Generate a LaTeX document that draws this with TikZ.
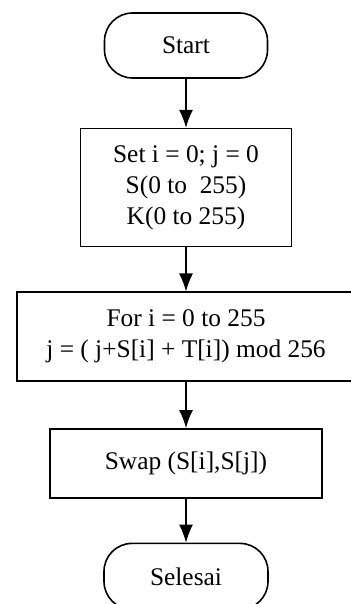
\documentclass[tikz,border=0pt]{standalone}
\usepackage{fontspec}
\setmainfont{Liberation Serif}
\usepackage{tikz}
\usetikzlibrary{arrows.meta,positioning}
\tikzset{
  terminal/.style={draw,line width=0.8pt,rounded corners=14pt,align=center,
    inner sep=0pt,font=\fontsize{12.7}{15.5}\selectfont},
  process/.style={draw,line width=0.8pt,align=center,inner sep=0pt,
    font=\fontsize{12.7}{15.5}\selectfont},
  arrow/.style={-{Latex[length=9pt,width=7pt]},line width=0.6pt}
}

\begin{document}
\begin{tikzpicture}[node distance=22pt]
      \useasboundingbox (0,0) rectangle (175.5pt,-302pt);
      \node[terminal,minimum width=81.5pt,minimum height=32.5pt] (start) at (93pt,-22.75pt) {Start};
      \node[process,minimum width=105.5pt,minimum height=59pt,below=24.5pt of start] (init)
        {Set i = 0; j = 0\\S(0 to\ \ 255)\\K(0 to 255)};
      \node[process,minimum width=169pt,minimum height=44.5pt,below=of init] (loop)
        {For i = 0 to 255\\j = ( j+S[i] + T[i]) mod 256};
      \node[process,minimum width=136pt,minimum height=34.5pt,below=23pt of loop] (swap)
        {Swap (S[i],S[j])};
      \node[terminal,minimum width=82pt,minimum height=33pt,below=of swap] (selesai) {Selesai};
      \draw[arrow] (start)--(init);
      \draw[arrow] (init)--(loop);
      \draw[arrow] (loop)--(swap);
      \draw[arrow] (swap)--(selesai);
    \end{tikzpicture}
\end{document}
